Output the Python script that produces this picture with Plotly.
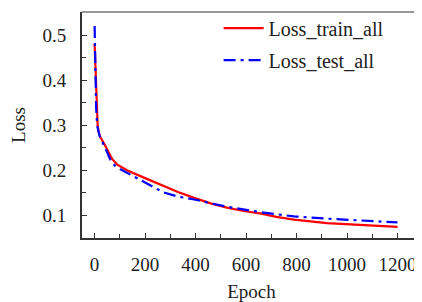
import plotly.graph_objects as go

train_epoch = [0, 3, 6, 9, 12, 16, 22, 40, 55, 70, 90, 130, 200, 260, 330, 400, 460, 520, 590, 660, 720, 790, 920, 1050, 1200]
train_loss = [0.481, 0.43, 0.39, 0.33, 0.30, 0.285, 0.275, 0.257, 0.24, 0.225, 0.213, 0.2, 0.183, 0.168, 0.152, 0.138, 0.127, 0.118, 0.11, 0.104, 0.097, 0.091, 0.083, 0.079, 0.0745]

test_epoch = [0, 3, 6, 10, 20, 50, 65, 85, 130, 200, 270, 330, 400, 460, 520, 660, 790, 920, 1050, 1200]
test_loss = [0.521, 0.40, 0.34, 0.30, 0.276, 0.24, 0.22, 0.208, 0.194, 0.174, 0.152, 0.142, 0.135, 0.127, 0.12, 0.107, 0.098, 0.093, 0.089, 0.0845]

x_ticks = [0, 200, 400, 600, 800, 1000, 1200]
y_ticks = [0.1, 0.2, 0.3, 0.4, 0.5]

FONT = "Liberation Serif"
FS = 19

fig = go.Figure()
fig.add_trace(go.Scatter(x=train_epoch, y=train_loss, mode="lines", name="Loss_train_all",
                         line=dict(color="#ff0000", width=2.2), legend="legend"))
fig.add_trace(go.Scatter(x=test_epoch, y=test_loss, mode="lines", name="Loss_test_all",
                         line=dict(color="#0000ff", width=2.2, dash="12px,5px,3px,5px"), legend="legend2"))

axis_common = dict(showgrid=False, zeroline=False, showline=True, linecolor="#333333", linewidth=2,
                   ticks="inside", tickcolor="#333333", tickwidth=1.2, ticklen=5, automargin=False,
                   tickfont=dict(family=FONT, size=FS, color="#222222"))

fig.update_xaxes(range=[-50, 1293], tickvals=x_ticks, ticktext=[str(v) for v in x_ticks],
                 minor=dict(dtick=100, tick0=0, ticks="inside", ticklen=4, tickcolor="#333333", tickwidth=1.2),
                 ticklabelstandoff=8,
                 title=dict(text="Epoch", font=dict(family=FONT, size=FS, color="#222222"), standoff=12),
                 **axis_common)
fig.update_yaxes(range=[0.05, 0.552], tickvals=y_ticks, ticktext=["0.1", "0.2", "0.3", "0.4", "0.5"],
                 minor=dict(dtick=0.05, tick0=0, ticks="inside", ticklen=4, tickcolor="#333333", tickwidth=1.2),
                 ticklabelstandoff=10,
                 title=dict(text="Loss", font=dict(family=FONT, size=FS, color="#222222"), standoff=22),
                 **axis_common)

fig.add_shape(type="line", xref="paper", yref="paper", x0=0, x1=1, y0=1, y1=1,
              line=dict(color="#333333", width=1.2))
fig.add_shape(type="line", xref="paper", yref="paper", x0=1, x1=1, y0=0, y1=1,
              line=dict(color="#888888", width=1))

legend_common = dict(xanchor="left", yanchor="middle", bgcolor="rgba(0,0,0,0)", borderwidth=0,
                     font=dict(family=FONT, size=20, color="#222222"), itemwidth=40)
fig.update_layout(
    width=414, height=294,
    margin=dict(l=74, r=1, t=3, b=64),
    paper_bgcolor="white", plot_bgcolor="white",
    showlegend=True,
    legend=dict(x=0.403, y=0.925, **legend_common),
    legend2=dict(x=0.403, y=0.784, **legend_common),
)

fig.write_html("out.html")
